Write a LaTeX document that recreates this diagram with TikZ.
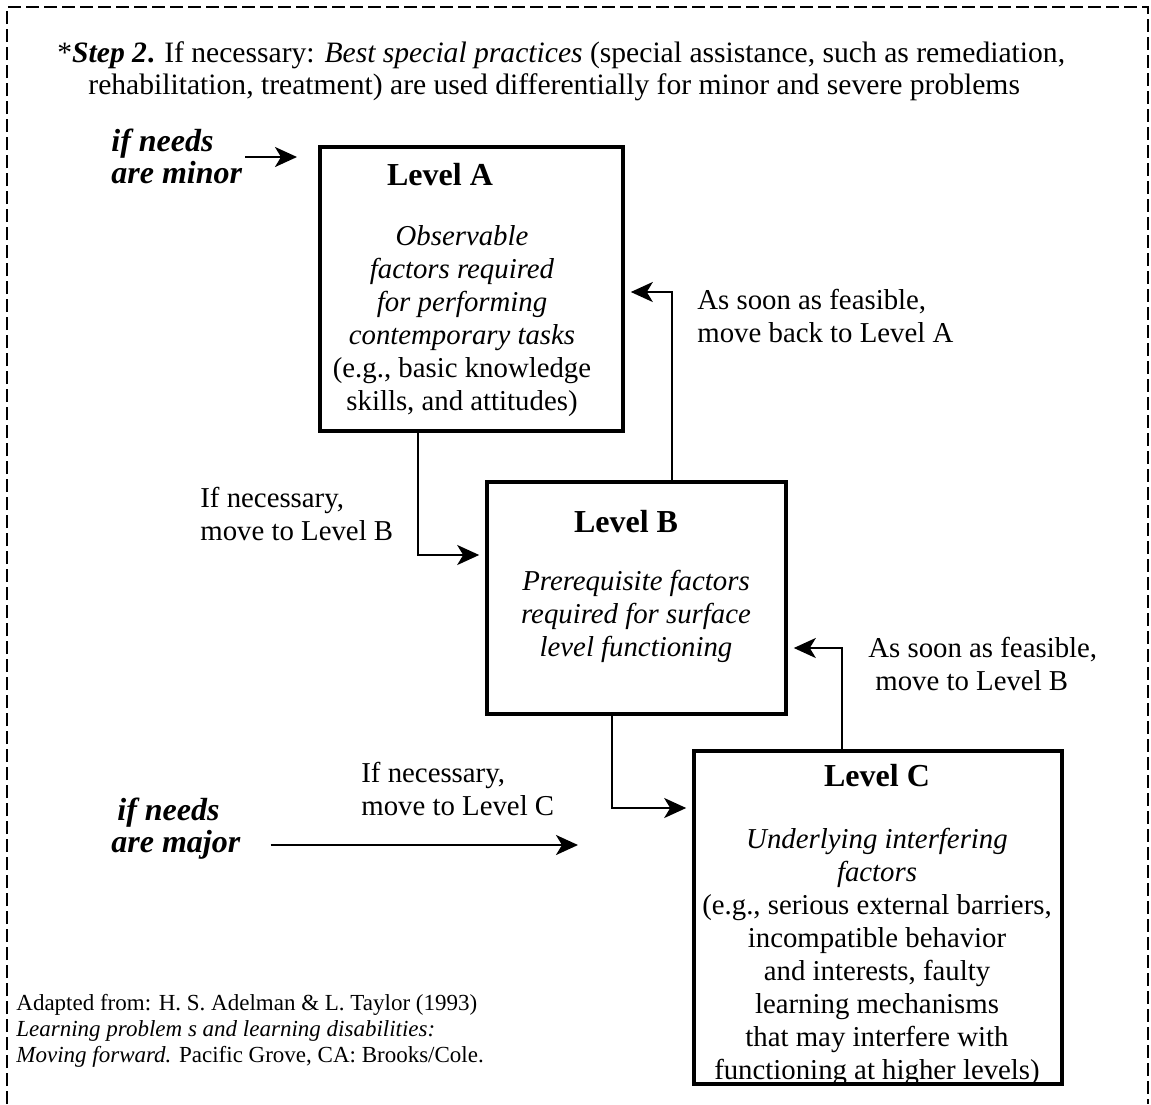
\documentclass[tikz,border=0pt]{standalone}
\usepackage{fontspec}
\setmainfont{Liberation Serif}
\usetikzlibrary{arrows.meta}
\tikzset{
  lvlbox/.style={draw, line width=1.8pt, inner sep=0pt},
  flow/.style={line width=1.2pt, shorten >=3pt, -{Stealth[length=11pt,width=10pt,inset=3pt]}},
  txt/.style={inner sep=0pt, font=\fontsize{14.4}{16.5}\selectfont},
  lvltitle/.style={inner sep=0pt, anchor=base, font=\fontsize{16}{18}\selectfont\bfseries},
  needs/.style={inner sep=0pt, anchor=base west, align=left, font=\fontsize{16}{14}\selectfont\bfseries\itshape},
}

\begin{document}
\begin{tikzpicture}[x=0.5pt, y=-0.5pt]
			%%%%% START %%%%%
			\useasboundingbox (0,0) rectangle (1151,1104);
			\draw[line width=1pt, dash pattern=on 6.5pt off 2.5pt] (7,1104) -- (7,7) -- (1148,7) -- (1148,1104);
			
			% (base of a multi-line node = base of its last line)
			\node[txt, font=\fontsize{14.8}{16}\selectfont, anchor=base west, align=left] (step) at (57,94) {*\textbf{\textit{Step 2}.} If necessary: \textit{Best special practices} (special assistance, such as remediation,\\\hspace*{15.5pt}rehabilitation, treatment) are used differentially for minor and severe problems};
			
			\node[lvlbox, minimum width=151.5pt, minimum height=142pt] (lvlA) at (471.5,289) {};
			\node[lvlbox, minimum width=149.5pt, minimum height=116pt] (lvlB) at (636.5,598) {};
			\node[lvlbox, minimum width=184pt, minimum height=166.5pt] (lvlC) at (878,917.5) {};
			
			\node[lvltitle] (lvlAtitle) at (440,185) {Level A};
			\node[txt, anchor=base, align=center] (lvlAtext) at (462,410) {\textit{Observable}\\\textit{factors required}\\\textit{for performing}\\\textit{contemporary tasks}\\(e.g., basic knowledge\\skills, and attitudes)};
			
			\node[lvltitle] (lvlBtitle) at (626,532) {Level B};
			\node[txt, anchor=base, align=center] (lvlBtext) at (636,656) {\textit{Prerequisite factors}\\\textit{required for surface}\\\textit{level functioning}};
			
			\node[lvltitle] (lvlCtitle) at (877,786) {Level C};
			\node[txt, anchor=base, align=center] (lvlCtext) at (877,1079) {\textit{Underlying interfering}\\\textit{factors}\\(e.g., serious external barriers,\\incompatible behavior\\and interests, faulty\\learning mechanisms\\that may interfere with\\functioning at higher levels)};
			
			\node[needs] (minor) at (111,183) {if needs\\are minor};
			\node[needs] (major) at (111,852) {\hspace*{3pt}if needs\\are major};
			
			\node[txt, anchor=base west, align=left] (backA) at (697,342) {As soon as feasible,\\move back to Level A};
			\node[txt, anchor=base west, align=left] (toB) at (200,540) {If necessary,\\move to Level B};
			\node[txt, anchor=base west, align=left] (backB) at (868,690) {As soon as feasible,\\\hspace*{3.5pt}move to Level B};
			\node[txt, anchor=base west, align=left] (toC) at (361,815) {If necessary,\\move to Level C};
			
			\node[inner sep=0pt, anchor=base west, align=left, font=\fontsize{11.5}{13}\selectfont] (source) at (16,1062) {Adapted from: H. S. Adelman \& L. Taylor (1993)\\\textit{Learning problem s and learning disabilities:}\\\textit{Moving forward.} Pacific Grove, CA: Brooks/Cole.};
			
			% arrows in
			\coordinate (minorTip) at (297,157);
			\coordinate (majorTip) at (578,845);
			\draw[flow, shorten >=0pt] ([xshift=1.5pt]minor.east |- minorTip) -- (minorTip);
			\draw[flow, shorten >=0pt] ([xshift=15pt]major.east |- majorTip) -- (majorTip);
			
			% moves between levels
			\coordinate (abTurn) at (418,555);
			\coordinate (baTurn) at (672,292);
			\coordinate (bcTurn) at (612,808);
			\coordinate (cbTurn) at (842,648);
			\draw[flow] (lvlA.south -| abTurn) -- (abTurn) -- (abTurn -| lvlB.west);
			\draw[flow] (lvlB.north -| baTurn) -- (baTurn) -- (baTurn -| lvlA.east);
			\draw[flow] (lvlB.south -| bcTurn) -- (bcTurn) -- (bcTurn -| lvlC.west);
			\draw[flow] (lvlC.north -| cbTurn) -- (cbTurn) -- (cbTurn -| lvlB.east);
			%%%%% END %%%%%
\end{tikzpicture}
\end{document}
